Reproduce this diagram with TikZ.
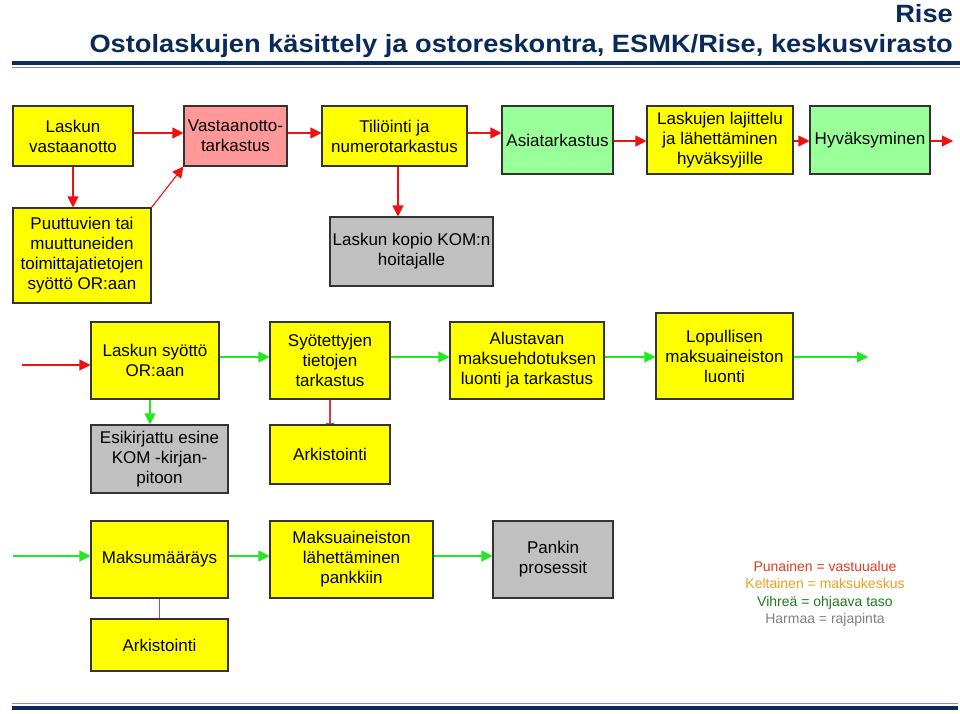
\documentclass[tikz,border=0pt]{standalone}
\usepackage{fontspec}
\setmainfont{Liberation Sans}
\newfontfamily\titlefont[FakeStretch=1.09]{Liberation Sans}
\usetikzlibrary{arrows.meta,calc}
\definecolor{navy}{HTML}{0B2A5C}
\definecolor{rulelight}{HTML}{7A93B5}
\definecolor{byellow}{HTML}{FFFF00}
\definecolor{bgreen}{HTML}{99FF99}
\definecolor{bgray}{HTML}{C0C0C0}
\definecolor{bpink}{HTML}{FF9999}
\definecolor{ared}{HTML}{F01010}
\definecolor{agreen}{HTML}{22E822}
\definecolor{darkred}{HTML}{D03C50}
\definecolor{legred}{HTML}{E03C1E}
\definecolor{legorange}{HTML}{E8A020}
\definecolor{leggreen}{HTML}{1E7A1E}
\definecolor{leggray}{HTML}{808080}
\begin{document}
\begin{tikzpicture}[x=1pt,y=-1pt,
  box/.style={draw=black!80, line width=1.1pt, rectangle, inner sep=0pt, align=center,
    font=\fontsize{17}{20}\selectfont, text=black},
  ybox/.style={box, fill=byellow},
  gbox/.style={box, fill=bgreen},
  graybox/.style={box, fill=bgray},
  pbox/.style={box, fill=bpink},
  redarr/.style={draw=ared, line width=1.1pt, -{Triangle[length=11pt,width=11pt]}},
  greenarr/.style={draw=agreen, line width=1.1pt, -{Triangle[length=11pt,width=11pt]}},
  archline/.style={draw=darkred, line width=1.4pt},
]
\useasboundingbox (0,0) rectangle (960,713);
\fill[white] (0,0) rectangle (960,713);

% titles
\node[anchor=base east, inner sep=0pt, text=navy, font=\titlefont\bfseries\fontsize{25}{28}\selectfont] (rise) at (953,22) {Rise};
\node[anchor=base east, inner sep=0pt, text=navy, font=\titlefont\bfseries\fontsize{25}{28}\selectfont] (title) at (953,52) {Ostolaskujen käsittely ja ostoreskontra, ESMK/Rise, keskusvirasto};

% rules
\draw[navy, line width=3.2pt] (12,63) -- (960,63);
\draw[rulelight, line width=1.6pt] (12,67.5) -- (960,67.5);
\draw[rulelight, line width=1.6pt] (12,703.5) -- (958,703.5);
\draw[navy, line width=3.2pt] (12,708) -- (958,708);

% row 1
\node[ybox, minimum width=120pt, minimum height=60pt] (lv) at (73,136) {Laskun\\vastaanotto};
\node[pbox, minimum width=103pt, minimum height=60pt] (vt) at (235.5,136) {Vastaanotto-\\tarkastus};
\node[ybox, minimum width=145pt, minimum height=60pt] (tn) at (394.5,136) {Tiliöinti ja\\numerotarkastus};
\node[gbox, minimum width=111pt, minimum height=68pt] (at) at (557.5,140) {Asiatarkastus};
\node[ybox, minimum width=146pt, minimum height=68pt] (ll) at (720,140) {Laskujen lajittelu\\ja lähettäminen\\hyväksyjille};
\node[gbox, minimum width=120pt, minimum height=68pt] (hy) at (870,140) {Hyväksyminen};
\coordinate (hyend) at (953,141);

% row 2
\node[ybox, minimum width=138pt, minimum height=95pt] (pu) at (82,255.5) {Puuttuvien tai\\muuttuneiden\\toimittajatietojen\\syöttö OR:aan};
\node[graybox, minimum width=163pt, minimum height=69pt] (kk) at (411.5,251.5) {Laskun kopio KOM:n\\hoitajalle};

% row 3
\coordinate (lsin) at (22,365);
\node[ybox, minimum width=128pt, minimum height=77pt] (ls) at (155,360.5) {Laskun syöttö\\OR:aan};
\node[ybox, minimum width=120pt, minimum height=77pt] (st) at (330,360.5) {Syötettyjen\\tietojen\\tarkastus};
\node[ybox, minimum width=154pt, minimum height=77pt] (al) at (527,360.5) {Alustavan\\maksuehdotuksen\\luonti ja tarkastus};
\node[ybox, minimum width=137pt, minimum height=86pt] (lo) at (724.5,356) {Lopullisen\\maksuaineiston\\luonti};
\coordinate (loend) at (868,357);

% row 4
\node[graybox, minimum width=137pt, minimum height=68pt] (ek) at (159.5,459) {Esikirjattu esine\\KOM -kirjan-\\pitoon};
\node[ybox, minimum width=120pt, minimum height=59pt] (ar1) at (330,454.5) {Arkistointi};

% row 5
\coordinate (mmin) at (13,556);
\node[ybox, minimum width=137pt, minimum height=77pt] (mm) at (159.5,559.5) {Maksumääräys};
\node[ybox, minimum width=163pt, minimum height=77pt] (mp) at (351.5,559.5) {Maksuaineiston\\lähettäminen\\pankkiin};
\node[graybox, minimum width=120pt, minimum height=77pt] (pp) at (553,559.5) {Pankin\\prosessit};
\node[ybox, minimum width=137pt, minimum height=52pt] (ar2) at (159.5,645) {Arkistointi};

% legend
\node[align=center, inner sep=0pt, font=\fontsize{14}{17.3}\selectfont] (legend) at (825,594)
  {\textcolor{legred}{Punainen = vastuualue}\\
   \textcolor{legorange}{Keltainen = maksukeskus}\\
   \textcolor{leggreen}{Vihreä = ohjaava taso}\\
   \textcolor{leggray}{Harmaa = rajapinta}};

% connectors row 1
\draw[redarr] ([yshift=3pt]lv.east) -- ([yshift=3pt]vt.west);
\draw[redarr] ([yshift=3pt]vt.east) -- ([yshift=3pt]tn.west);
\draw[redarr] ([yshift=3pt]tn.east) -- ([yshift=3pt]tn.east -| at.west);
\draw[redarr] ([yshift=-1pt]at.east) -- ([yshift=-1pt]ll.west);
\draw[redarr] ([yshift=-1pt]ll.east) -- ([yshift=-1pt]hy.west);
\draw[redarr] ([yshift=-1pt]hy.east) -- (hyend);
% row 1 to 2
\draw[redarr] (lv.south) -- (lv.south |- pu.north);
\draw[redarr] (pu.north east) -- (vt.south west);
\draw[redarr] ([xshift=3.5pt]tn.south) -- ([xshift=3.5pt]tn.south |- kk.north);
% row 3
\draw[redarr] (lsin) -- (lsin -| ls.west);
\draw[greenarr] ([yshift=3.5pt]ls.east) -- ([yshift=3.5pt]st.west);
\draw[greenarr] ([yshift=3.5pt]st.east) -- ([yshift=3.5pt]al.west);
\draw[greenarr] ([yshift=3.5pt]al.east) -- ([yshift=3.5pt]al.east -| lo.west);
\draw[greenarr] (lo.east |- loend) -- (loend);
\draw[greenarr] ([xshift=-5pt]ls.south) -- ([xshift=-5pt]ls.south |- ek.north);
\draw[archline, -{Bar[width=8pt]}] (st.south) -- (ar1.north);
% row 5
\draw[greenarr] (mmin) -- (mmin -| mm.west);
\draw[greenarr] ([yshift=3.5pt]mm.east) -- ([yshift=3.5pt]mp.west);
\draw[greenarr] ([yshift=3.5pt]mp.east) -- ([yshift=3.5pt]pp.west);
\draw[archline] (mm.south) -- (ar2.north);
\end{tikzpicture}
\end{document}
